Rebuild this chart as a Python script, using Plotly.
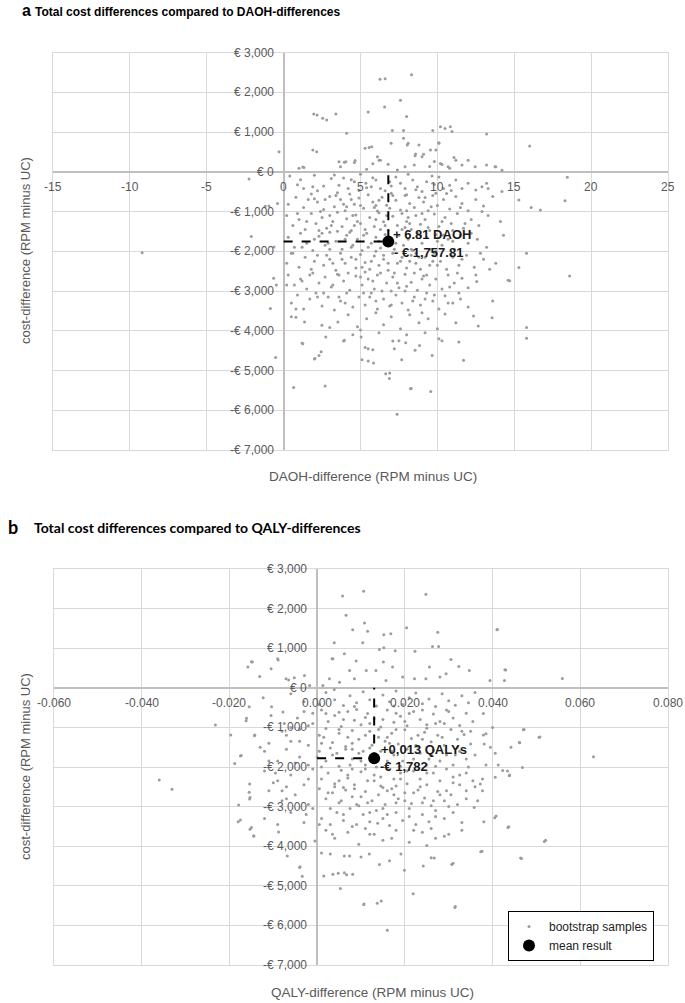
import plotly.graph_objects as go

# ---------------- data ----------------
daoh_mean = (6.81, -1757.81)
qaly_mean = (0.013, -1782)

daoh_samples = [
    # above zero
    (6.27,2330),(6.6,2340),(8.32,2440),(7.6,1800),(6.57,1630),(5.5,1500),(8.0,1390),(1.96,1450),(2.18,1430),
    (2.54,1345),(2.8,1300),(3.4,1450),(4.1,970),(7.07,1040),(7.8,1040),(9.7,1040),(10.2,1130),(10.5,1090),
    (10.84,1130),(10.95,1010),(13.2,950),(7.8,840),(8.04,670),(10.1,720),(5.3,590),(5.56,610),(5.73,630),
    (1.9,550),(2.15,500),(9.55,550),(11.08,360),(11.2,290),(1.25,120),(1.0,85),(3.7,125),(4.05,250),(4.65,280),
    (6.1,380),(6.2,290),(8.58,445),(9.0,380),(10.2,210),(10.7,125),(11.6,170),(13.2,170),(13.75,125),(14.2,40),
    (12.0,290),(12.46,125),(-0.3,500),(1.32,110),(16.0,650),(6.99,715),(8.1,715),(8.8,672),(9.9,547),(10.1,730),
    (9.1,438),(13.8,126),(3.6,252),(3.95,240),(4.6,230),(5.8,200),(6.3,290),(6.8,190),(7.4,42),(7.9,126),
    (8.55,400),(8.5,170),(9.5,130),(9.8,260),(10.3,180),(10.8,90),(5.4,60),
    # 0 .. -500
    (0.4,-110),(0.9,-330),(1.3,-420),(1.9,-380),(2.6,-360),(3.1,-170),(3.6,-340),(4.2,-420),(4.6,-250),
    (5.35,-290),(5.7,-380),(6.0,-210),(6.3,-420),(7.3,-130),(7.6,-290),(7.9,-420),(8.4,-210),(8.7,-380),
    (9.0,-500),(9.3,-250),(9.65,-110),(10.1,-130),(10.4,-420),(10.8,-340),(11.2,-210),(11.6,-420),(12.0,-290),
    (12.5,-460),(12.9,-380),(13.2,-290),(13.3,-420),(14.2,-500),(5.0,-60),(2.2,-480),(8.1,-60),(6.6,-480),
    (4.9,-470),(3.3,-80),(10.9,-470),(-2.25,-180),(18.45,-140),(1.1,-200),(9.8,-320),(7.0,-360),
    # -500 .. -1000
    (0.3,-820),(0.8,-640),(1.3,-900),(1.8,-560),(2.2,-760),(2.6,-950),(3.0,-620),(3.3,-880),(3.7,-700),
    (4.0,-980),(4.3,-560),(4.6,-820),(4.9,-660),(5.2,-920),(5.5,-580),(5.8,-760),(6.1,-990),(6.4,-640),
    (6.7,-840),(7.0,-540),(7.3,-720),(7.6,-960),(7.9,-600),(8.2,-800),(8.5,-900),(8.8,-650),(9.1,-760),
    (9.4,-980),(9.7,-600),(10.0,-850),(10.4,-700),(10.8,-940),(11.2,-620),(11.6,-800),(12.0,-980),(12.5,-700),
    (13.0,-860),(13.6,-620),(15.3,-710),(16.1,-900),(16.7,-960),(18.3,-730),(-0.95,-860),(-1.2,-870),
    (-0.4,-800),(5.0,-850),(6.9,-920),(3.5,-530),(8.0,-980),(2.0,-680),(9.9,-540),(6.2,-720),(4.4,-700),
    # -1000 .. -1500
    (0.2,-1100),(0.6,-1350),(1.0,-1200),(1.4,-1450),(1.8,-1050),(2.1,-1300),(2.5,-1150),(2.8,-1420),
    (3.2,-1250),(3.5,-1020),(3.8,-1380),(4.1,-1180),(4.4,-1480),(4.7,-1090),(5.0,-1300),(5.3,-1450),
    (5.6,-1150),(5.9,-1380),(6.2,-1030),(6.5,-1260),(6.8,-1480),(7.1,-1120),(7.4,-1350),(7.7,-1050),
    (8.0,-1250),(8.3,-1450),(8.6,-1100),(8.9,-1320),(9.2,-1200),(9.5,-1480),(9.8,-1060),(10.1,-1380),
    (10.5,-1150),(10.9,-1300),(11.3,-1050),(11.7,-1420),(12.2,-1200),(12.7,-1350),(13.3,-1100),(14.1,-1250),
    (3.0,-1100),(6.0,-1200),(7.9,-1400),(4.8,-1250),(9.0,-1050),(2.3,-1480),(11.0,-1480),
    # -1500 .. -2000
    (0.3,-1650),(0.7,-1900),(1.1,-1550),(1.5,-1800),(1.9,-1980),(2.3,-1620),(2.7,-1850),(3.0,-1520),
    (3.4,-1750),(3.8,-1950),(4.1,-1600),(4.5,-1850),(4.8,-1700),(5.1,-1980),(5.4,-1550),(5.7,-1800),
    (6.0,-1650),(6.3,-1920),(6.6,-1580),(7.2,-1950),(7.5,-1600),(7.8,-1850),(8.1,-1700),(8.4,-1980),
    (8.7,-1550),(9.0,-1800),(9.3,-1650),(9.6,-1950),(9.9,-1580),(10.3,-1850),(10.7,-1700),(11.1,-1950),
    (11.5,-1600),(12.0,-1800),(12.6,-1700),(13.2,-1900),(14.3,-1600),(-2.1,-1630),(-0.63,-1890),(15.8,-2050),
    (2.0,-1700),(6.2,-1750),(4.3,-1520),(10.0,-1750),
    # -2000 .. -2500
    (0.2,-2300),(0.6,-2050),(1.0,-2400),(1.4,-2150),(1.8,-2450),(2.2,-2100),(2.6,-2350),(3.0,-2200),
    (3.4,-2480),(3.7,-2050),(4.0,-2300),(4.4,-2150),(4.7,-2420),(5.0,-2080),(5.3,-2280),(5.6,-2450),
    (5.9,-2120),(6.2,-2350),(6.5,-2200),(6.8,-2480),(7.1,-2050),(7.4,-2300),(7.7,-2150),(8.0,-2420),
    (8.3,-2100),(8.6,-2300),(8.9,-2450),(9.2,-2150),(9.5,-2350),(9.8,-2050),(10.2,-2250),(10.6,-2450),
    (11.0,-2150),(11.4,-2350),(11.9,-2100),(12.4,-2400),(13.0,-2200),(13.8,-2300),(-9.2,-2040),(15.3,-2410),
    (18.6,-2620),(3.2,-2300),(6.0,-2000),(8.2,-2250),
    # -2500 .. -3000
    (0.3,-2600),(0.7,-2850),(1.1,-2700),(1.5,-2950),(1.9,-2550),(2.3,-2800),(2.7,-2650),(3.1,-2900),
    (3.5,-2580),(3.9,-2750),(4.3,-2980),(4.7,-2620),(5.1,-2850),(5.5,-2700),(5.9,-2950),(6.3,-2550),
    (6.7,-2800),(7.1,-2650),(7.5,-2920),(7.9,-2580),(8.3,-2780),(8.7,-2980),(9.1,-2620),(9.5,-2850),
    (9.9,-2700),(10.3,-2950),(10.7,-2600),(11.1,-2800),(11.6,-2680),(12.0,-2920),(12.56,-2760),(14.6,-2730),
    (14.7,-2740),(-0.65,-2680),(-0.47,-2850),(5.3,-2520),(8.0,-2880),
    # -3000 .. -3500
    (0.5,-3300),(0.9,-3100),(1.3,-3450),(1.7,-3200),(2.1,-3050),(2.5,-3380),(2.9,-3150),(3.3,-3480),
    (3.7,-3250),(4.1,-3050),(4.5,-3400),(4.9,-3150),(5.3,-3350),(5.7,-3050),(6.1,-3450),(6.5,-3200),
    (6.9,-3380),(7.3,-3100),(7.7,-3300),(8.1,-3480),(8.5,-3150),(8.9,-3350),(9.3,-3050),(9.7,-3250),
    (10.1,-3450),(10.5,-3120),(11.0,-3300),(11.5,-3200),(12.0,-3400),(13.6,-3250),(-0.86,-3440),(6.0,-3250),
    # -3500 .. -4000
    (0.5,-3650),(0.8,-3660),(1.36,-3780),(2.49,-3860),(3.0,-3920),(3.53,-3780),(4.2,-3600),(4.8,-3900),
    (5.4,-3700),(6.0,-3550),(6.5,-3850),(7.0,-3650),(7.6,-3950),(8.2,-3600),(8.8,-3800),(9.4,-3700),
    (10.0,-3950),(10.5,-3580),(11.2,-3800),(12.35,-3630),(12.66,-3880),(13.56,-3670),(15.8,-3920),
    (5.0,-3980),(9.0,-3550),
    # below -4000
    (15.8,-4190),(1.2,-4310),(2.04,-4700),(2.3,-4620),(2.44,-4530),(2.74,-4160),(3.9,-4260),(-0.52,-4675),
    (0.65,-5430),(2.7,-5390),(11.7,-4740),(11.4,-4280),(10.1,-4200),(10.3,-4250),(9.66,-4620),(8.84,-4370),
    (8.55,-4490),(7.94,-4300),(7.68,-4730),(7.1,-4260),(7.5,-4250),(7.2,-4450),(6.9,-5060),(6.88,-5200),
    (8.3,-5450),(9.57,-5530),(7.38,-6100),(5.1,-4730),(5.5,-4760),(5.85,-4810),(5.5,-4450),(5.3,-4420),
    (5.8,-4480),(3.95,-4240),(5.04,-4160),(1.25,-4330),(2.0,-4710),(6.64,-5080),(8.25,-5460),(4.5,-4100),
    (6.2,-4050),(8.0,-4100),(9.2,-4050),
    # dense core, additional
    (1.6,-700),(2.4,-1000),(3.1,-1350),(3.9,-820),(4.5,-1100),(5.2,-1600),(5.9,-900),(6.6,-1350),(7.3,-1800),
    (8.1,-1150),(8.9,-1600),(9.6,-880),(10.3,-1250),(11.0,-1750),(2.8,-2100),(3.6,-2600),(4.4,-1900),
    (5.1,-2400),(5.8,-2750),(6.5,-2100),(7.2,-2550),(7.9,-3000),(8.6,-2050),(9.3,-2600),(10.0,-2350),
    (10.8,-2900),(11.6,-2200),(1.2,-1900),(1.7,-2600),(2.2,-3150),(4.0,-3300),(5.6,-3150),(7.0,-3350),
    (8.4,-3250),(9.8,-3100),(3.4,-600),(5.4,-400),(7.1,-600),(8.6,-450),(10.6,-550),(12.2,-1550),
    (12.8,-2050),(0.9,-1050),(0.5,-2050),(0.2,-2850),(4.7,-2200),(6.1,-2600),(6.9,-1650),(8.3,-1950),
    (9.4,-1400),(2.9,-1800),(3.2,-2850),(4.2,-2550),(6.4,-3000),(7.6,-2250),(9.0,-2700),(10.4,-1600),
    (11.3,-2550),(1.5,-1250),(2.5,-1550),(5.5,-1900),(7.7,-1450),(8.8,-2150),(9.9,-2000),(4.6,-1350),
    (3.5,-1500),(6.8,-2300),(5.0,-2650),(7.4,-2800),(8.5,-2550),(2.0,-2250),(3.8,-2200),(6.3,-1450),
    (9.7,-2250),(10.9,-2100),(11.8,-1300),(5.7,-2250),(4.0,-1700),(6.7,-1100),(8.2,-1300),(3.0,-1950),
    (1.2,-2750),(2.6,-3050),(9.2,-3200),(11.4,-3050),(12.5,-2600),(13.4,-2450),(7.0,-3000),(5.2,-3050),
    (3.6,-3150),(0.8,-3450),(10.7,-3300),(6.0,-850),(4.1,-880),(2.7,-700),(9.2,-650),(11.5,-900),
    (12.9,-1000),(8.0,-580),(6.9,-250),(5.8,-150),(4.4,-200),(3.9,-160),(2.0,-90),
]

qaly_samples = [
    # above zero
    (0.0058,2321),(0.0106,2439),(0.0248,2363),(0.0066,1831),(0.0081,1468),(0.0108,1637),(0.0115,1426),
    (0.0152,1342),(0.0168,1367),(0.0204,1519),(0.0275,1401),(0.0263,1046),(0.0277,1046),(0.041,1468),
    (0.0039,1139),(0.0104,1139),(0.0142,970),(0.0152,1013),(0.0178,937),(0.0223,920),(0.0305,717),
    (0.0323,540),(0.0428,456),(0.0427,186),(0.0394,186),(-0.009,734),(-0.0105,481),(-0.0131,287),
    (-0.0158,523),(-0.0148,650),(-0.0071,228),(-0.0052,253),(-0.0029,312),(0.0036,734),(0.0062,861),
    (0.0089,675),(0.0074,439),(0.0112,439),(0.0134,439),(0.0151,650),(0.0172,523),(0.0195,270),
    (0.0222,228),(0.0248,228),(0.0256,523),(0.028,270),(0.0294,354),(0.0347,439),(0.0028,228),
    (0.0051,143),(0.0085,228),(0.0157,186),(-0.0017,59),(0.0013,59),(0.0034,732),(-0.015,657),
    (-0.0089,700),(-0.0065,200),(0.0559,237),(0.043,447),(0.0411,1474),
    # 0 .. -500
    (-0.0155,-480),(-0.0123,-250),(-0.0104,-480),(-0.006,-150),(-0.003,-350),(0.0005,-420),(0.002,-120),
    (0.004,-300),(0.006,-450),(0.0075,-200),(0.009,-380),(0.0105,-100),(0.012,-300),(0.0135,-460),
    (0.015,-180),(0.0165,-350),(0.018,-80),(0.0195,-420),(0.021,-250),(0.0225,-130),(0.024,-400),
    (0.0255,-280),(0.027,-470),(0.0285,-150),(0.030,-330),(0.0315,-440),(0.033,-200),(0.0345,-380),
    (0.036,-120),(0.0039,-40),(0.0085,-470),(0.0175,-460),
    # -500 .. -1000
    (-0.0078,-610),(-0.0161,-770),(-0.0162,-830),(-0.0105,-700),(-0.0075,-900),(-0.0045,-760),
    (-0.002,-960),(0.001,-560),(0.0025,-850),(0.004,-700),(0.0055,-980),(0.007,-600),(0.0085,-820),
    (0.010,-930),(0.0115,-650),(0.013,-780),(0.0145,-990),(0.016,-560),(0.0175,-870),(0.019,-720),
    (0.0205,-960),(0.022,-600),(0.0235,-800),(0.025,-930),(0.0265,-660),(0.028,-850),(0.0295,-560),
    (0.031,-760),(0.0325,-950),(0.034,-640),(0.0355,-850),(0.0379,-650),(0.040,-1000),(0.005,-620),
    (0.012,-900),(0.018,-640),(0.024,-560),(-0.001,-640),
    # -1000 .. -1500
    (-0.0232,-940),(-0.0197,-1190),(-0.0142,-1190),(-0.0143,-1210),(-0.011,-1400),(-0.008,-1100),
    (-0.006,-1350),(-0.004,-1050),(-0.002,-1450),(0.0005,-1200),(0.002,-1030),(0.0035,-1380),
    (0.005,-1150),(0.0065,-1480),(0.008,-1080),(0.0095,-1300),(0.011,-1200),(0.0125,-1450),(0.014,-1050),
    (0.0155,-1350),(0.017,-1150),(0.0185,-1420),(0.020,-1060),(0.0215,-1280),(0.023,-1480),(0.0245,-1120),
    (0.026,-1360),(0.0275,-1200),(0.029,-1450),(0.0305,-1050),(0.032,-1300),(0.0335,-1180),(0.035,-1420),
    (0.0379,-1190),(0.0381,-1420),(0.0385,-1160),(0.047,-1060),(0.0506,-1250),(0.0461,-1380),
    (0.0508,-1240),(0.0472,-1050),(0.0462,-1390),(0.007,-1250),(0.016,-1250),(0.001,-1400),(0.025,-1020),
    # -1500 .. -2000
    (-0.0175,-1720),(-0.0188,-1910),(-0.0173,-1710),(-0.012,-1600),(-0.009,-1850),(-0.007,-1550),
    (-0.004,-1750),(-0.002,-1950),(0.0005,-1600),(0.002,-1850),(0.0035,-1700),(0.005,-1980),
    (0.0065,-1550),(0.008,-1800),(0.0095,-1650),(0.011,-1950),(0.0145,-1600),(0.016,-1850),
    (0.0175,-1700),(0.019,-1980),(0.0205,-1550),(0.022,-1800),(0.0235,-1650),(0.025,-1950),
    (0.0265,-1580),(0.028,-1850),(0.0295,-1700),(0.031,-1950),(0.0325,-1600),(0.034,-1800),(0.036,-1700),
    (0.0406,-1650),(0.0413,-1950),(0.0442,-1500),(0.0468,-2010),(0.063,-1740),(0.012,-1520),
    (0.003,-1520),(0.027,-1980),
    # -2000 .. -2500
    (-0.0154,-2430),(-0.012,-2100),(-0.009,-2350),(-0.006,-2200),(-0.003,-2450),(-0.001,-2050),
    (0.001,-2300),(0.0025,-2150),(0.004,-2420),(0.0055,-2080),(0.007,-2280),(0.0085,-2450),(0.010,-2120),
    (0.0115,-2350),(0.013,-2200),(0.0145,-2480),(0.016,-2050),(0.0175,-2300),(0.019,-2150),(0.0205,-2420),
    (0.022,-2100),(0.0235,-2300),(0.025,-2450),(0.0265,-2150),(0.028,-2350),(0.0295,-2050),(0.031,-2250),
    (0.0325,-2450),(0.034,-2150),(0.0355,-2350),(0.0377,-2300),(0.0372,-2430),(0.0406,-2260),
    (0.0423,-2090),(0.0438,-2220),(0.0439,-2200),(0.0434,-2100),(-0.036,-2330),(-0.0331,-2560),
    (-0.01,-2400),(-0.007,-2500),(0.008,-2050),(0.018,-2480),
    # -2500 .. -3000
    (-0.0155,-2640),(-0.0153,-2770),(-0.0179,-2960),(-0.0154,-2810),(-0.011,-2600),(-0.008,-2850),
    (-0.005,-2700),(-0.002,-2950),(0.0005,-2550),(0.002,-2800),(0.0035,-2650),(0.005,-2900),(0.0065,-2580),
    (0.008,-2750),(0.0095,-2980),(0.011,-2620),(0.0125,-2850),(0.014,-2700),(0.0155,-2950),(0.017,-2550),
    (0.0185,-2800),(0.020,-2650),(0.0215,-2920),(0.023,-2580),(0.0245,-2780),(0.026,-2980),(0.0275,-2620),
    (0.029,-2850),(0.0305,-2700),(0.032,-2950),(0.034,-2600),(0.0377,-2600),(0.0366,-2850),(0.0358,-3020),
    (0.006,-2520),(0.015,-2520),
    # -3000 .. -3500
    (-0.018,-3380),(-0.0175,-3340),(-0.012,-3300),(-0.009,-3450),(-0.006,-3150),(-0.003,-3400),
    (-0.001,-3050),(0.001,-3300),(0.003,-3450),(0.0045,-3150),(0.006,-3350),(0.0075,-3050),(0.009,-3450),
    (0.0105,-3200),(0.012,-3380),(0.0135,-3100),(0.015,-3300),(0.0165,-3480),(0.018,-3150),(0.0195,-3350),
    (0.021,-3050),(0.0225,-3450),(0.024,-3200),(0.0255,-3380),(0.027,-3100),(0.029,-3300),(0.031,-3150),
    (0.033,-3400),(0.0408,-3240),(0.0405,-3280),(0.038,-3380),(0.0138,-3420),
    # -3500 .. -4000
    (-0.015,-3530),(-0.0145,-3740),(-0.0153,-3570),(-0.0144,-3740),(-0.0088,-3640),(-0.0005,-3870),
    (0.002,-3600),(0.004,-3800),(0.007,-3650),(0.0095,-3950),(0.012,-3700),(0.015,-3850),(0.018,-3600),
    (0.021,-3900),(0.024,-3650),(0.027,-3800),(0.030,-3700),(0.0437,-3510),(0.0435,-3530),(0.0521,-3850),
    (0.0518,-3880),(0.011,-3550),(0.025,-3980),
    # below -4000
    (-0.0068,-4250),(-0.0039,-4520),(-0.0034,-4760),(-0.004,-4540),(0.001,-4170),(0.003,-4200),
    (0.0062,-4245),(0.0074,-4245),(0.0015,-4750),(0.0036,-4710),(0.0062,-4670),(0.0081,-4710),
    (0.0053,-5070),(0.0106,-5470),(0.0137,-5440),(0.0146,-5385),(0.016,-6120),(0.0219,-5200),
    (0.0314,-5550),(0.010,-4270),(0.0119,-4200),(0.0142,-4460),(0.0165,-4370),(0.0191,-4200),
    (0.0199,-4610),(0.0242,-4500),(0.026,-4290),(0.0267,-4300),(0.0307,-4460),(0.0373,-4140),
    (0.0464,-4300),(0.0466,-4310),(0.0376,-4130),(0.031,-4430),(0.0315,-5520),(0.0107,-5460),
    (0.0048,-4680),(0.0067,-4720),
    # dense core, additional
    (0.002,-650),(0.005,-1050),(0.008,-1400),(0.011,-750),(0.014,-1250),(0.017,-1600),(0.020,-850),
    (0.023,-1200),(0.026,-1700),(0.029,-900),(0.032,-1500),(0.035,-1100),(0.001,-2000),(0.004,-2500),
    (0.007,-2200),(0.010,-2750),(0.013,-2350),(0.016,-2600),(0.019,-2300),(0.022,-2650),(0.025,-2150),
    (0.028,-2700),(0.031,-2400),(0.034,-2800),(-0.002,-2300),(-0.005,-1900),(-0.008,-2600),(-0.011,-1850),
    (-0.004,-1350),(-0.007,-1200),(0.003,-3050),(0.006,-3200),(0.009,-2950),(0.012,-3150),(0.015,-3050),
    (0.018,-2900),(0.021,-3250),(0.024,-2900),(0.027,-3250),(0.030,-3000),(0.0015,-1250),(0.0045,-1650),
    (0.0075,-1950),(0.0105,-1600),(0.0135,-2000),(0.0165,-1400),(0.0195,-1850),(0.0225,-1450),
    (0.0255,-1800),(0.0285,-1250),(0.0315,-1700),(0.0345,-2000),(0.006,-800),(0.009,-550),(0.012,-1100),
    (0.015,-800),(0.018,-1050),(0.021,-650),(0.024,-1300),(0.027,-900),(0.030,-600),(0.033,-1100),
    (-0.001,-900),(-0.003,-600),(-0.006,-1000),(0.0025,-2650),(0.0055,-2850),(0.0085,-2550),(0.0115,-2900),
    (0.0145,-2250),(0.0175,-2700),(0.0205,-2100),(0.0235,-2500),(0.0265,-2850),(0.0295,-2600),
    (0.0325,-2200),(0.036,-2500),(0.0385,-1950),(0.0395,-1500),(0.0005,-3450),(0.0035,-3700),(0.008,-3500),
    (0.013,-3700),(0.017,-3800),(0.022,-3600),(0.026,-3550),(0.029,-3750),(0.033,-3600),(-0.0025,-3200),
    (-0.007,-2800),(-0.0095,-2150),(-0.013,-1500),(0.0,-1750),(0.011,-2050),(0.020,-2850),(0.008,-1550),
    (0.014,-1800),(0.023,-2000),(0.016,-3200),(0.010,-1850),(0.005,-2350),
]

daoh_xticks = [-15, -10, -5, 0, 5, 10, 15, 20, 25]
qaly_xticks = [-0.06, -0.04, -0.02, 0.0, 0.02, 0.04, 0.06, 0.08]
cost_ticks = [3000, 2000, 1000, 0, -1000, -2000, -3000, -4000, -5000, -6000, -7000]

daoh_label = ["+ 6.81 DAOH", "- € 1,757.81"]
qaly_label = ["+0,013 QALYs", "-€ 1,782"]

# ---------------- figure ----------------
W, H = 685, 1003
GRID = "#d9d9d9"
TXT = "#595959"
FONT = "Liberation Sans, Arial, sans-serif"
PT = "#9c9c9c"


def cost_label(v):
    if v < 0:
        return "-€ {:,}".format(-v)
    return "€ {:,}".format(v)


fig = go.Figure()

dx = [p[0] for p in daoh_samples]
dy = [p[1] for p in daoh_samples]
qx = [p[0] for p in qaly_samples]
qy = [p[1] for p in qaly_samples]

# panel a
fig.add_trace(go.Scatter(x=dx, y=dy, mode="markers", xaxis="x", yaxis="y",
                         marker=dict(size=3, color=PT), showlegend=False))
fig.add_trace(go.Scatter(x=[0, daoh_mean[0], daoh_mean[0]], y=[daoh_mean[1], daoh_mean[1], 0],
                         mode="lines", xaxis="x", yaxis="y",
                         line=dict(color="black", width=2, dash="dash"), showlegend=False))
fig.add_trace(go.Scatter(x=[daoh_mean[0]], y=[daoh_mean[1]], mode="markers", xaxis="x", yaxis="y",
                         marker=dict(size=12, color="black"), showlegend=False))

# panel b
fig.add_trace(go.Scatter(x=qx, y=qy, mode="markers", xaxis="x2", yaxis="y2",
                         marker=dict(size=3, color=PT), name="bootstrap samples"))
fig.add_trace(go.Scatter(x=[0, qaly_mean[0], qaly_mean[0]], y=[qaly_mean[1], qaly_mean[1], 0],
                         mode="lines", xaxis="x2", yaxis="y2",
                         line=dict(color="black", width=2, dash="dash"), showlegend=False))
fig.add_trace(go.Scatter(x=[qaly_mean[0]], y=[qaly_mean[1]], mode="markers", xaxis="x2", yaxis="y2",
                         marker=dict(size=12, color="black"), name="mean result"))

ax_common = dict(showticklabels=False, ticks="", showgrid=True, gridcolor=GRID, gridwidth=1,
                 zeroline=True, zerolinecolor="#bfbfbf", zerolinewidth=1.6,
                 showline=True, linecolor=GRID, linewidth=1, mirror=True, fixedrange=True)

fig.update_layout(
    width=W, height=H, margin=dict(l=0, r=0, t=0, b=0),
    paper_bgcolor="white", plot_bgcolor="white",
    font=dict(family=FONT, color=TXT, size=12),
    xaxis=dict(domain=[53 / W, 668 / W], range=[-15, 25], dtick=5, tick0=0, anchor="y", **ax_common),
    yaxis=dict(domain=[1 - 450 / H, 1 - 52.5 / H], range=[-7000, 3000], dtick=1000, tick0=0,
               anchor="x", **ax_common),
    xaxis2=dict(domain=[54 / W, 668 / W], range=[-0.06, 0.08], dtick=0.02, tick0=0, anchor="y2",
                **ax_common),
    yaxis2=dict(domain=[1 - 965 / H, 1 - 569 / H], range=[-7000, 3000], dtick=1000, tick0=0,
                anchor="x2", **ax_common),
    legend=dict(x=654 / W, y=1 - 911 / H, xanchor="right", yanchor="top",
                bgcolor="white", bordercolor="black", borderwidth=1,
                font=dict(family=FONT, size=12, color="#222222"),
                itemwidth=30, tracegroupgap=0),
)

ann = []
# tick labels placed along the zero axes
for xr, yr, ticks, fmt in (("x", "y", daoh_xticks, lambda v: "{:d}".format(v)),
                           ("x2", "y2", qaly_xticks, lambda v: "{:.3f}".format(v))):
    for t in ticks:
        ann.append(dict(x=t, y=0, xref=xr, yref=yr, text=fmt(t), showarrow=False,
                        xanchor="center", yanchor="middle", yshift=-15,
                        font=dict(family=FONT, size=12, color=TXT)))
    for c in cost_ticks:
        ann.append(dict(x=0, y=c, xref=xr, yref=yr, text=cost_label(c), showarrow=False,
                        xanchor="right", yanchor="middle", xshift=-8,
                        font=dict(family=FONT, size=12, color=TXT)))

# mean labels
ann.append(dict(x=daoh_mean[0], y=daoh_mean[1], xref="x", yref="y", text="<b>%s</b>" % daoh_label[0],
                showarrow=False, xanchor="left", yanchor="middle", xshift=3, yshift=7,
                font=dict(family=FONT, size=13, color="#1a1a1a")))
ann.append(dict(x=daoh_mean[0], y=daoh_mean[1], xref="x", yref="y", text="<b>%s</b>" % daoh_label[1],
                showarrow=False, xanchor="left", yanchor="middle", xshift=4, yshift=-11,
                font=dict(family=FONT, size=13, color="#1a1a1a")))
ann.append(dict(x=qaly_mean[0], y=qaly_mean[1], xref="x2", yref="y2", text="<b>%s</b>" % qaly_label[0],
                showarrow=False, xanchor="left", yanchor="middle", xshift=5, yshift=9,
                font=dict(family=FONT, size=13, color="#1a1a1a")))
ann.append(dict(x=qaly_mean[0], y=qaly_mean[1], xref="x2", yref="y2", text="<b>%s</b>" % qaly_label[1],
                showarrow=False, xanchor="left", yanchor="middle", xshift=4, yshift=-8,
                font=dict(family=FONT, size=13, color="#1a1a1a")))

# panel titles
ann.append(dict(x=20 / W, y=1 - 10 / H, xref="paper", yref="paper", text="<b>a</b>", showarrow=False,
                xanchor="left", yanchor="middle", font=dict(family=FONT, size=16, color="black")))
ann.append(dict(x=33 / W, y=1 - 12 / H, xref="paper", yref="paper",
                text="<b>Total cost differences compared to DAOH-differences</b>", showarrow=False,
                xanchor="left", yanchor="middle", font=dict(family=FONT, size=12, color="black")))
ann.append(dict(x=6 / W, y=1 - 527 / H, xref="paper", yref="paper", text="<b>b</b>", showarrow=False,
                xanchor="left", yanchor="middle", font=dict(family="Lato, sans-serif", size=18, color="black")))
ann.append(dict(x=32 / W, y=1 - 527 / H, xref="paper", yref="paper",
                text="<b>Total cost differences compared to QALY-differences</b>", showarrow=False,
                xanchor="left", yanchor="middle", font=dict(family="Lato, sans-serif", size=14, color="black")))

# axis titles
ann.append(dict(x=25 / W, y=1 - 251 / H, xref="paper", yref="paper", text="cost-difference (RPM minus UC)",
                textangle=-90, showarrow=False, xanchor="center", yanchor="middle",
                font=dict(family=FONT, size=13, color=TXT)))
ann.append(dict(x=373 / W, y=1 - 477 / H, xref="paper", yref="paper", text="DAOH-difference (RPM minus UC)",
                showarrow=False, xanchor="center", yanchor="middle", font=dict(family=FONT, size=13.5, color=TXT)))
ann.append(dict(x=25 / W, y=1 - 767 / H, xref="paper", yref="paper", text="cost-difference (RPM minus UC)",
                textangle=-90, showarrow=False, xanchor="center", yanchor="middle",
                font=dict(family=FONT, size=13, color=TXT)))
ann.append(dict(x=372 / W, y=1 - 992 / H, xref="paper", yref="paper", text="QALY-difference (RPM minus UC)",
                showarrow=False, xanchor="center", yanchor="middle", font=dict(family=FONT, size=13.5, color=TXT)))

fig.update_layout(annotations=ann)
fig.write_html("out.html", config={"displayModeBar": False},
               post_script="document.body.style.margin='0px';document.body.style.overflow='hidden';")
